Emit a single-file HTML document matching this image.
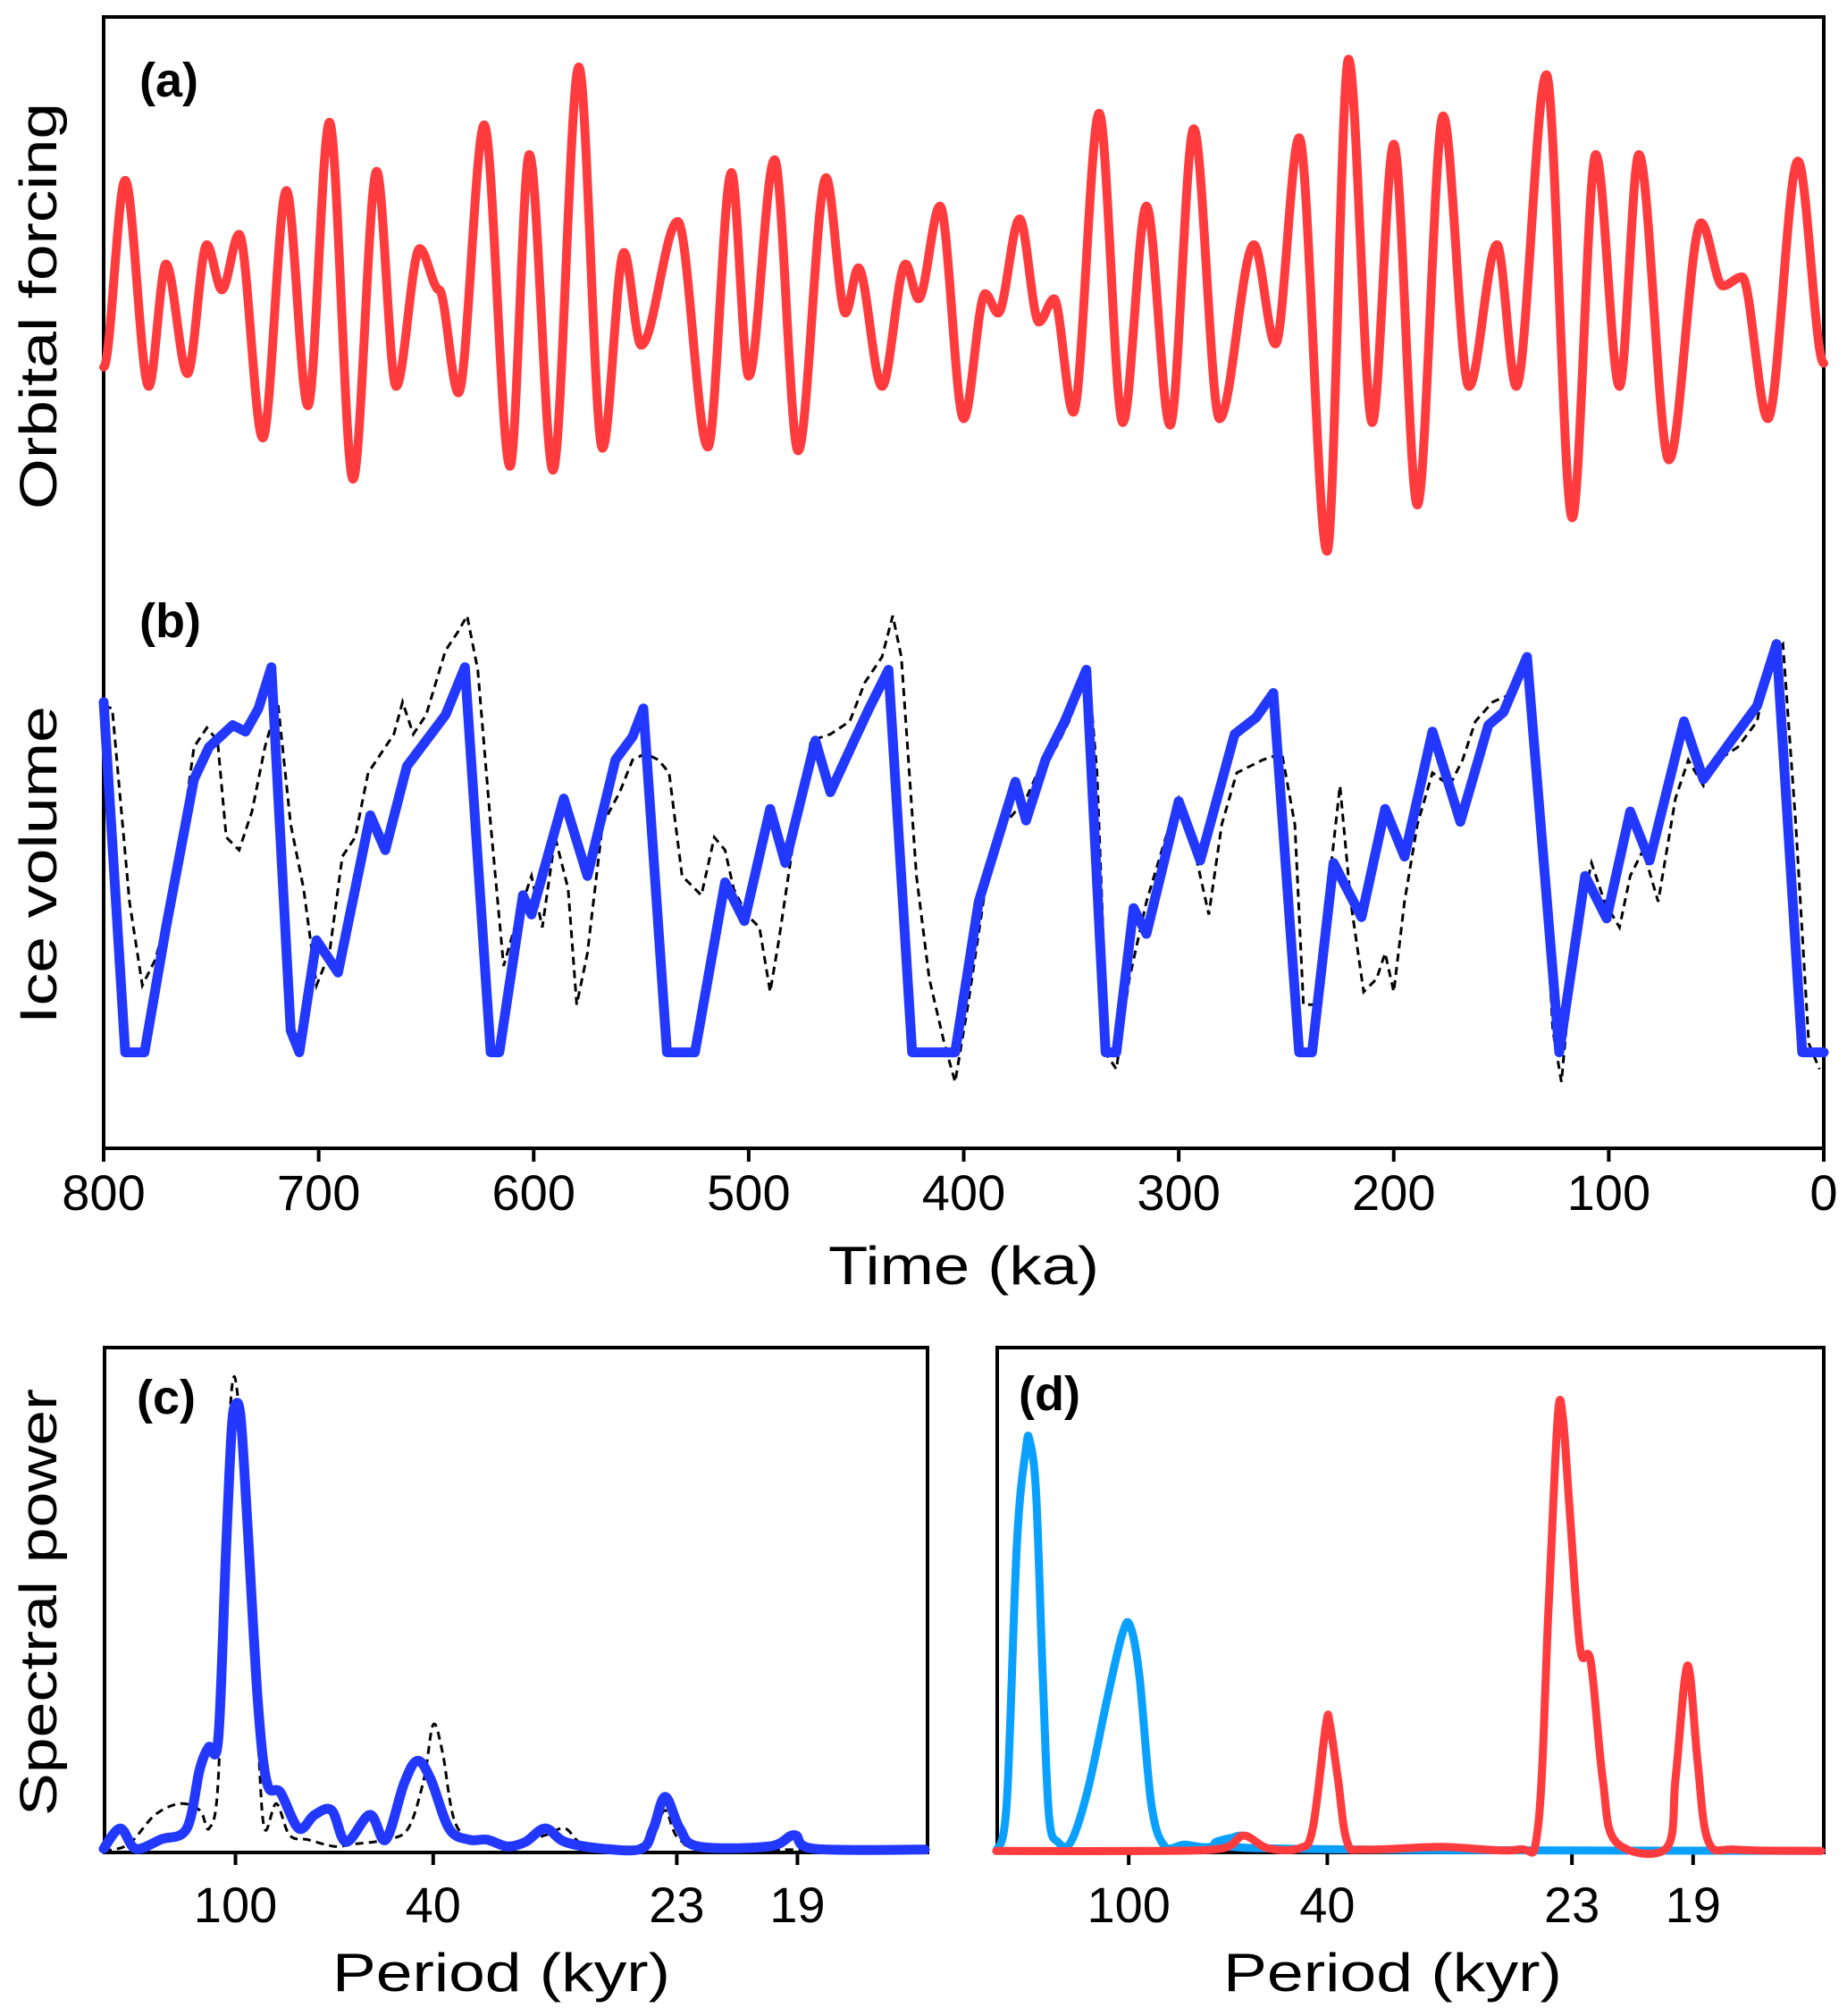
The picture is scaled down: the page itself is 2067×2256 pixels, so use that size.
<!DOCTYPE html>
<html><head><meta charset="utf-8"><style>
html,body{margin:0;padding:0;background:#fff;}
svg{display:block;}
text{font-family:"Liberation Sans","DejaVu Sans",sans-serif;fill:#000;}
</style></head><body>
<svg id="fig" width="2067" height="2256" viewBox="0 0 2067 2256" xmlns="http://www.w3.org/2000/svg">
<rect x="0" y="0" width="2067" height="2256" fill="#fff"/>
<g id="g"></g>
</svg>
<script>
// ---- Panel (a) orbital forcing: time (ka) and normalized value
const forcingKa=[800,790,779,771,761,752,745,737,726,715,705,695,684,673,664,653,644,635,623,611,602,591,579,568,558,550,533,519,508,500,488,477,464,455,449,438,427,421,411,400,390,384,374,365,358,349,337,326,315,304,293,281,265,255,244,231,221,210,200,189,177,165,152,143,129,117,106,95,86,72,57,47,38,26,12,0];
const forcingVal=[-0.5,14,-2,7.5,-1,9,5.5,9.8,-6,13.2,-3.5,18.5,-9.2,14.7,-2,8.7,5.5,-2.5,18.3,-8.2,16,-8.5,22.8,-6.8,8.4,1.2,10.8,-6.7,14.6,-1.2,15.6,-7,14.2,3.7,7.2,-2,7.5,4.8,12,-4.5,5.2,3.7,11,3,4.8,-4,19.2,-4.8,12,-5,18,-4.5,9,1.3,17.3,-14.8,23.4,-4.8,16.8,-11.2,19,-2,9,-2,22.2,-12.2,16,-2,16,-7.7,10.7,5.8,6.5,-4.5,15.5,-0.2];
// ---- Panel (b) ice volume model (blue) and data (dashed)
const iceModelKa=[800,790,781,771,758,751,740,734,728,722,713,709,701,691,676,669,659,650,641,632,620,616,605,601,586,575,562,554,549,538,525,511,502,490,483,469,462,451,444,435,424,404,393,376,371,362,353,343,334,329,321,315,300,290,274,264,256,244,238,228,215,204,195,182,169,156,149,138,123,111,101,90,81,65,56,43,31,22,10,0];
const iceModelVal=[35.5,8.3,8.3,18,29.5,32,33.7,33.2,35,38.2,10,8.3,17,14.5,26.7,24,30.5,32.5,34.5,38.2,8.3,8.3,20.5,19,28,22,31,32.8,35,8.3,8.3,21.5,18.5,27.2,23,32.5,28.5,32.5,35,38,8.3,8.3,20,29.3,26.3,31,34,38,8.3,8.3,19.5,17.5,27.8,23.2,33,34.3,36.2,8.3,8.3,23,18.8,27.2,23.5,33.2,26.2,33.7,34.7,39,8.3,22,18.7,27,23.2,34,29.5,32.5,35.2,40,8.3,8.3];
const iceDataKa=[800,796,788,782,776,767,758,752,747,743,737,731,725,719,713,707,701,695,689,683,677,671,665,661,656,650,641,635,631,626,620,614,608,601,596,590,584,580,575,568,560,554,548,542,537,531,522,516,511,507,501,495,490,486,478,471,462,453,446,438,433,429,422,416,409,404,398,390,381,371,363,357,351,342,338,333,329,323,315,306,300,294,286,280,273,261,252,246,242,237,231,225,220,214,208,204,200,195,189,182,174,168,162,154,147,138,132,126,122,116,108,102,95,90,84,77,69,63,56,49,40,31,25,19,13,7,2];
const iceDataVal=[35.2,35,20,13.5,15.5,21,32,33.5,32.5,25,24,27,32,35.5,26,21,13.5,16,23.5,25,30,31.5,33,35.5,33,34.5,39.5,41,42.2,38,26,15,18.5,22,18,25,21,12,16,26,28.5,31,31.5,31,30,22,20.5,25,24,21,19,18,13,17,26,32.5,33,34,37,39,42.2,39,22,14,9,6,12,21,26,28,31,32,34,38,30,8,7,14,20,25,28,25,19,26,30,31,31.5,26,12,12,20,29,20,13,14,16,13,20,26,30,29,31,34,35.5,36,38,28,10,6,17,23,20,18,22,24,20,28,31,29,31,32,34,39,40,26,9,7];
// ---- Panel (c) spectra: frequency (1/kyr) and power
const specModelF=[0,0.00126,0.00243,0.00437,0.00631,0.00728,0.00796,0.0087,0.0093,0.0097,0.0100,0.0104,0.0109,0.0117,0.0124,0.0134,0.0148,0.0160,0.0173,0.0184,0.0202,0.0214,0.0228,0.0238,0.0248,0.0262,0.0277,0.0291,0.0306,0.0320,0.0335,0.0350,0.0379,0.0408,0.0417,0.0426,0.0437,0.0451,0.0505,0.0524,0.0539,0.0623];
const specModelP=[0.005,0.05,0.005,0.026,0.05,0.18,0.23,0.25,0.68,0.93,0.99,0.96,0.73,0.33,0.15,0.13,0.05,0.08,0.09,0.02,0.08,0.025,0.15,0.2,0.16,0.05,0.025,0.025,0.01,0.02,0.05,0.02,0.005,0.005,0.05,0.12,0.05,0.01,0.01,0.035,0.005,0.003];
const specDataF=[0,0.0019,0.0039,0.0058,0.0073,0.0080,0.0087,0.0092,0.0097,0.0102,0.0109,0.0117,0.0122,0.0131,0.0141,0.0155,0.0175,0.0189,0.0214,0.0231,0.0243,0.0250,0.0257,0.0267,0.0286,0.0311,0.0335,0.0350,0.0364,0.0398,0.0417,0.0426,0.0437,0.0466,0.0623];
const specDataP=[0,0.015,0.08,0.105,0.09,0.05,0.16,0.68,1.02,1.0,0.68,0.25,0.05,0.105,0.035,0.025,0.01,0.015,0.025,0.05,0.16,0.28,0.22,0.06,0.02,0.015,0.035,0.05,0.015,0.005,0.035,0.09,0.025,0.005,0.003];
// ---- Panel (d) spectra
const specCyanF=[0,0.00078,0.00155,0.00223,0.00252,0.00301,0.00350,0.00398,0.00466,0.00563,0.0069,0.00835,0.0095,0.0101,0.0108,0.0117,0.0127,0.0142,0.0161,0.0185,0.0200,0.0623];
const specCyanP=[0,0.105,0.68,0.89,0.91,0.79,0.39,0.077,0.02,0.02,0.134,0.334,0.48,0.5,0.39,0.106,0.011,0.014,0.009,0.034,0.006,0];
const specRedF=[0,0.0122,0.0171,0.0187,0.0205,0.0229,0.0239,0.0249,0.0252,0.0258,0.0265,0.0278,0.0336,0.0394,0.0409,0.0417,0.0424,0.0428,0.0433,0.0441,0.0449,0.0458,0.0468,0.0506,0.0513,0.0520,0.0524,0.0530,0.0538,0.0559,0.0623];
const specRedP=[0,0,0.006,0.034,0.006,0.006,0.05,0.28,0.28,0.16,0.02,0.003,0.009,0.003,0.05,0.53,0.96,0.96,0.76,0.45,0.42,0.16,0.02,0.006,0.16,0.38,0.39,0.19,0.02,0.003,0];
const timeTicks=[800,700,600,500,400,300,200,100,0];
const periodTicks=[100,40,23,19];

const S=1.4414;
const NS="http://www.w3.org/2000/svg";
const G=document.getElementById('g');
function el(tag,attrs,parent){const e=document.createElementNS(NS,tag);for(const k in attrs)e.setAttribute(k,attrs[k]);(parent||G).appendChild(e);return e;}

// axes functions
const xT=ka=>116+(800-ka)/800*(2041-116);
const yA=v=>(280-10*v)*S;
const yB=v=>(900-10*v)*S;
const xC=f=>116+f/0.0625*(1038-116);
const xD=f=>1115+f/0.0625*(2041-1115);
const yS=p=>(1437-350*p)*S;

function smoothExt(xs,ys){ // horizontal tangents at extrema
  let d='M'+xs[0].toFixed(1)+' '+ys[0].toFixed(1);
  for(let i=1;i<xs.length;i++){const dx=(xs[i]-xs[i-1])/3;
    d+=' C'+(xs[i-1]+dx).toFixed(1)+' '+ys[i-1].toFixed(1)+' '+(xs[i]-dx).toFixed(1)+' '+ys[i].toFixed(1)+' '+xs[i].toFixed(1)+' '+ys[i].toFixed(1);}
  return d;}
function catmull(xs,ys){
  let d='M'+xs[0].toFixed(1)+' '+ys[0].toFixed(1);
  for(let i=0;i<xs.length-1;i++){
    const x0=xs[Math.max(0,i-1)],y0=ys[Math.max(0,i-1)],x1=xs[i],y1=ys[i],x2=xs[i+1],y2=ys[i+1],x3=xs[Math.min(xs.length-1,i+2)],y3=ys[Math.min(xs.length-1,i+2)];
    const c1x=x1+(x2-x0)/6,c1y=y1+(y2-y0)/6,c2x=x2-(x3-x1)/6,c2y=y2-(y3-y1)/6;
    d+=' C'+c1x.toFixed(1)+' '+c1y.toFixed(1)+' '+c2x.toFixed(1)+' '+c2y.toFixed(1)+' '+x2.toFixed(1)+' '+y2.toFixed(1);}
  return d;}
function poly(xs,ys){return 'M'+xs.map((x,i)=>x.toFixed(1)+' '+ys[i].toFixed(1)).join(' L');}

// frames
let fr=el('rect',{x:116,y:19,width:1925,height:1266,fill:'none',stroke:'#000','stroke-width':4});


fr=el('rect',{x:117,y:1508,width:921,height:565,fill:'none',stroke:'#000','stroke-width':4});


fr=el('rect',{x:1116,y:1508,width:925,height:565,fill:'none',stroke:'#000','stroke-width':4});



// time ticks
timeTicks.forEach(t=>{
  const tk=el('line',{x1:xT(t),x2:xT(t),y1:1285,y2:1300,stroke:'#000','stroke-width':4});
  
  
  const lb=el('text',{x:xT(t),y:1354,'font-size':56,'text-anchor':'middle'});lb.textContent=t;
  
  
});
periodTicks.forEach(p=>{
  [[xC,'c'],[xD,'d']].forEach(([fx,n])=>{
    const tk=el('line',{x1:fx(1/p),x2:fx(1/p),y1:2073,y2:2087,stroke:'#000','stroke-width':4});
    
    
    const lb=el('text',{x:fx(1/p),y:2151,'font-size':56,'text-anchor':'middle'});lb.textContent=p;
    
    
  });
});

// series
let s=el('path',{d:smoothExt(forcingKa.map(xT),forcingVal.map(yA)),fill:'none',stroke:'#ff3b3e','stroke-width':10,'stroke-linecap':'round','stroke-linejoin':'round'});


s=el('path',{d:poly(iceDataKa.map(xT),iceDataVal.map(yB)),fill:'none',stroke:'#000','stroke-width':3,'stroke-dasharray':'9 6'});


s=el('path',{d:poly(iceModelKa.map(xT),iceModelVal.map(yB)),fill:'none',stroke:'#2238ff','stroke-width':11,'stroke-linecap':'round','stroke-linejoin':'round'});


s=el('path',{d:catmull(specDataF.map(xC),specDataP.map(yS)),fill:'none',stroke:'#000','stroke-width':3,'stroke-dasharray':'9 6'});


s=el('path',{d:catmull(specModelF.map(xC),specModelP.map(yS)),fill:'none',stroke:'#2238ff','stroke-width':11,'stroke-linecap':'round','stroke-linejoin':'round'});


s=el('path',{d:catmull(specCyanF.map(xD),specCyanP.map(yS)),fill:'none',stroke:'#0aa0ff','stroke-width':9,'stroke-linecap':'round','stroke-linejoin':'round'});


s=el('path',{d:catmull(specRedF.map(xD),specRedP.map(yS)),fill:'none',stroke:'#ff3b3e','stroke-width':9,'stroke-linecap':'round','stroke-linejoin':'round'});



// labels
function txt(str,attrs,name){const t=el('text',attrs);t.textContent=str;
  
  return t;}
txt('(a)',{x:156,y:108,'font-size':54,'font-weight':'bold'},'panel-a-label');
txt('(b)',{x:156,y:713,'font-size':54,'font-weight':'bold'},'panel-b-label');
txt('(c)',{x:153,y:1582,'font-size':54,'font-weight':'bold'},'panel-c-label');
txt('(d)',{x:1140,y:1578,'font-size':54,'font-weight':'bold'},'panel-d-label');
txt('Time  (ka)',{x:927,y:1437,'font-size':60,textLength:303,lengthAdjust:'spacingAndGlyphs'},'x-axis-title');
txt('Period  (kyr)',{x:372,y:2228,'font-size':60,textLength:378,lengthAdjust:'spacingAndGlyphs'},'period-axis-title-c');
txt('Period  (kyr)',{x:1369,y:2228,'font-size':60,textLength:379,lengthAdjust:'spacingAndGlyphs'},'period-axis-title-d');
txt('Orbital  forcing',{x:0,y:0,'font-size':58,textLength:455,lengthAdjust:'spacingAndGlyphs',transform:'translate(63,570) rotate(-90)'},'orbital-forcing-axis-title');
txt('Ice  volume',{x:0,y:0,'font-size':58,textLength:356,lengthAdjust:'spacingAndGlyphs',transform:'translate(63,1146) rotate(-90)'},'ice-volume-axis-title');
txt('Spectral  power',{x:0,y:0,'font-size':58,textLength:478,lengthAdjust:'spacingAndGlyphs',transform:'translate(63,2032) rotate(-90)'},'spectral-power-axis-title');
</script>
</body></html>
